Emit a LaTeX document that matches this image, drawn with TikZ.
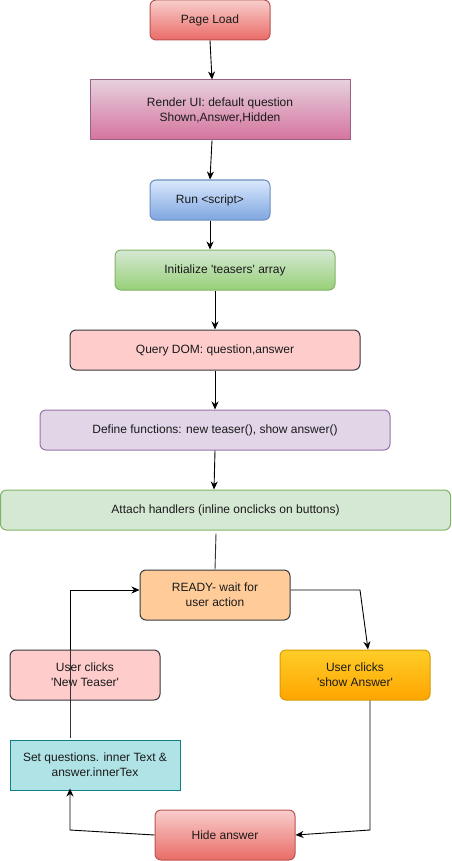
\documentclass[tikz,border=0pt]{standalone}
\usepackage{fontspec}
\setmainfont{Liberation Sans}
\usetikzlibrary{arrows.meta}
\definecolor{redTop}{HTML}{F8CECC}
\definecolor{redBot}{HTML}{EA6B66}
\definecolor{redLn}{HTML}{B85450}
\definecolor{pinkTop}{HTML}{E6D0DE}
\definecolor{pinkBot}{HTML}{D5739D}
\definecolor{pinkLn}{HTML}{996185}
\definecolor{blueTop}{HTML}{DAE8FC}
\definecolor{blueBot}{HTML}{7EA6E0}
\definecolor{blueLn}{HTML}{6C8EBF}
\definecolor{greenTop}{HTML}{D5E8D4}
\definecolor{greenBot}{HTML}{97D077}
\definecolor{greenLn}{HTML}{82B366}
\definecolor{qFill}{HTML}{FFCCCC}
\definecolor{darkLn}{HTML}{36393D}
\definecolor{purFill}{HTML}{E1D5E7}
\definecolor{purLn}{HTML}{9673A6}
\definecolor{greenFill}{HTML}{D5E8D4}
\definecolor{orFill}{HTML}{FFCC99}
\definecolor{yelTop}{HTML}{FFCD28}
\definecolor{yelBot}{HTML}{FFA500}
\definecolor{yelLn}{HTML}{D79B00}
\definecolor{cyFill}{HTML}{B0E3E6}
\definecolor{cyLn}{HTML}{0E8088}
\definecolor{txt}{HTML}{1A1A1A}
\newcommand{\sq}{\textquotesingle}
\tikzset{
  box/.style={draw, line width=1pt, minimum width=#1, align=center,
    font=\fontsize{12}{15}\selectfont, text=txt, inner sep=0pt},
  rbox/.style={box=#1, rounded corners=6pt},
  grad/.style n args={2}{top color=#1, bottom color=#2},
  arr/.style={-{Stealth[length=8pt,width=7pt,inset=2.5pt]}, line width=0.9pt, black},
  ln/.style={line width=0.9pt, black!80}
}
\begin{document}
\begin{tikzpicture}[x=1pt,y=-1pt]
\useasboundingbox (0,0) rectangle (451,861);
\node[rbox=120pt, minimum height=40pt, grad={redTop}{redBot}, draw=redLn] (load) at (210,20) {Page Load};
\node[box=260pt, minimum height=60pt, grad={pinkTop}{pinkBot}, draw=pinkLn] (render) at (220,110) {Render UI: default question\\Shown,Answer,Hidden};
\node[rbox=120pt, minimum height=40pt, grad={blueTop}{blueBot}, draw=blueLn] (run) at (210,200) {Run <script>};
\node[rbox=220pt, minimum height=40pt, grad={greenTop}{greenBot}, draw=greenLn] (init) at (225,270) {Initialize \sq teasers\sq{} array};
\node[rbox=290pt, minimum height=40pt, fill=qFill, draw=darkLn] (query) at (215,350) {Query DOM: question,answer};
\node[rbox=350pt, minimum height=40pt, fill=purFill, draw=purLn] (define) at (215,430) {Define functions: new teaser(), show answer()};
\node[rbox=450pt, minimum height=40pt, fill=greenFill, draw=greenLn] (attach) at (225.5,510) {Attach handlers (inline onclicks on buttons)};
\node[rbox=150pt, minimum height=50pt, fill=orFill, draw=darkLn] (ready) at (215,595) {READY- wait for\\user action};
\node[rbox=150pt, minimum height=50pt, fill=qFill, draw=darkLn] (newt) at (85,675) {User clicks\\\sq New Teaser\sq};
\node[rbox=150pt, minimum height=50pt, grad={yelTop}{yelBot}, draw=yelLn] (show) at (355,675) {User clicks\\\sq show Answer\sq};
\node[box=170pt, minimum height=50pt, fill=cyFill, draw=cyLn] (set) at (95,765) {Set questions. inner Text \&\\answer.innerTex};
\node[rbox=140pt, minimum height=50pt, grad={redTop}{redBot}, draw=redLn] (hide) at (225,835) {Hide answer};
\coordinate (c1) at (360,590);
\coordinate (c2) at (370,830);
\coordinate (c3) at (70,830);
\coordinate (c4) at (70,590);
\draw[arr] (load.south) -- ([xshift=2pt]render.north -| load.south);
\draw[arr] ([xshift=2pt]render.south -| load.south) -- (run.north);
\draw[arr] (run.south) -- (run.south |- init.north);
\draw[arr] ([xshift=5pt]init.south -| run.south) -- (query.north);
\draw[arr] (query.south) -- (define.north);
\draw[arr] (define.south) -- ([xshift=-1pt]attach.north -| define.south);
\draw[ln] ([yshift=-3pt,xshift=1pt]attach.south -| ready.north) -- (ready.north);
\draw[arr] (ready.east |- c1) -- (c1) -- ([xshift=13pt]show.north);
\draw[arr] ([xshift=15pt]show.south) -- (c2) -- (hide.east);
\draw[arr] (hide.west) -- (c3) -- ([yshift=2pt]set.south -| c3);
\draw[ln] ([yshift=2pt]set.north -| c3) -- (newt.north -| c3);
\draw[arr] (newt.north -| c4) -- (c4) -- (ready.west |- c4);
\end{tikzpicture}
\end{document}
